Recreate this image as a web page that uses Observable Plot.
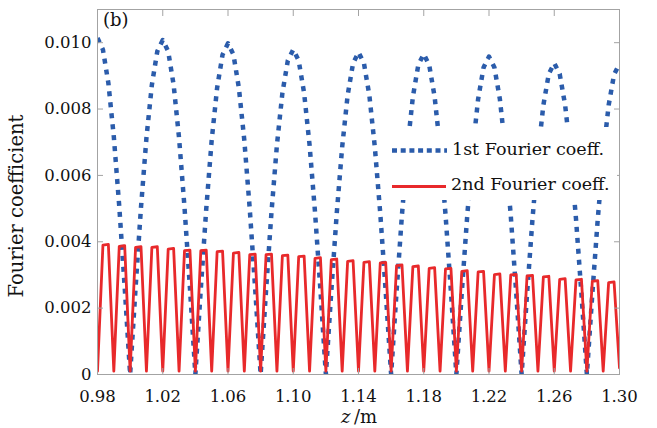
<!DOCTYPE html>
<html>
<head>
<meta charset="utf-8">
<script src="https://cdn.jsdelivr.net/npm/d3@7"></script>
<script src="https://cdn.jsdelivr.net/npm/@observablehq/plot@0.6"></script>
<style>
  html, body { margin: 0; padding: 0; background: #ffffff; }
  #wrap { position: relative; width: 657px; height: 428px; font-family: "DejaVu Serif", serif; color: #111; }
  #wrap svg { display: block; }
  .ov { position: absolute; white-space: nowrap; line-height: 1; }
</style>
</head>
<body>
<div id="wrap"></div>
<script>
// ---- data (values in units of 1e-3) ----
const zStart = 0.98;
const zStep = 1 / 300;

const firstCoeff = [
  10.14, 9.79, 8.78, 7.17, 5.07, 2.63, 0,
  2.61, 5.04, 7.13, 8.73, 9.74, 10.08, 9.74, 8.73, 7.13, 5.04, 2.61, 0,
  2.58, 4.99, 7.06, 8.64, 9.64, 9.98, 9.64, 8.64, 7.06, 4.99, 2.58, 0,
  2.54, 4.90, 6.92, 8.48, 9.46, 9.79, 9.46, 8.48, 6.92, 4.90, 2.54, 0,
  2.51, 4.86, 6.86, 8.41, 9.38, 9.71, 9.38, 8.41, 6.86, 4.86, 2.51, 0,
  2.50, 4.83, 6.83, 8.37, 9.33, 9.66, 9.33, 8.37, 6.83, 4.83, 2.50, 0,
  2.48, 4.79, 6.77, 8.30, 9.25, 9.58, 9.25, 8.30, 6.77, 4.79, 2.48, 0,
  2.43, 4.69, 6.63, 8.12, 9.06, 9.38, 9.06, 8.12, 6.63, 4.69, 2.43, 0,
  2.42, 4.68, 6.62, 8.11, 9.04, 9.36
];

const secondCoeff = [
  0.1, 3.90, 3.92, 0.1, 3.86, 3.88, 0.1, 3.83, 3.85, 0.1, 3.83, 3.85, 0.1,
  3.78, 3.80, 0.1, 3.73, 3.75, 0.1, 3.73, 3.75, 0.1, 3.70, 3.72, 0.1,
  3.66, 3.68, 0.1, 3.61, 3.63, 0.1, 3.61, 3.63, 0.1, 3.58, 3.60, 0.1,
  3.55, 3.57, 0.1, 3.50, 3.52, 0.1, 3.46, 3.48, 0.1, 3.41, 3.43, 0.1,
  3.38, 3.40, 0.1, 3.36, 3.38, 0.1, 3.28, 3.30, 0.1, 3.25, 3.27, 0.1,
  3.20, 3.22, 0.1, 3.18, 3.20, 0.1, 3.11, 3.13, 0.1, 3.09, 3.11, 0.1,
  3.01, 3.03, 0.1, 3.00, 3.02, 0.1, 2.97, 2.99, 0.1, 2.94, 2.96, 0.1,
  2.87, 2.89, 0.1, 2.85, 2.87, 0.1, 2.81, 2.83, 0.1, 2.77, 2.79, 0.2
];

const xTicks = [0.98, 1.02, 1.06, 1.10, 1.14, 1.18, 1.22, 1.26, 1.30];
const yTicks = [0, 0.002, 0.004, 0.006, 0.008, 0.010];
const seriesNames = ["1st Fourier coeff.", "2nd Fourier coeff."];

// ---- build tables ----
const toRows = (arr) => arr.map((v, i) => ({ z: zStart + i * zStep, v: v / 1000 }));
const blueRows = toRows(firstCoeff);
const redRows = toRows(secondCoeff);

const BLUE = "#2b5cab";
const RED = "#e8292b";
const GREY = "#a3a3a3";

const yFmt = d => d === 0 ? "0" : d3.format(".3f")(d);

const chart = Plot.plot({
  width: 657,
  height: 428,
  marginLeft: 97,
  marginRight: 38,
  marginTop: 9,
  marginBottom: 54,
  style: { fontFamily: "DejaVu Serif", fontSize: "16.5px", color: "#111", background: "#ffffff", overflow: "visible" },
  x: { domain: [0.98, 1.30] },
  y: { domain: [0, 0.011] },
  marks: [
    Plot.line(blueRows, { x: "z", y: "v", stroke: BLUE, strokeWidth: 4.5, strokeDasharray: "5,6", strokeLinecap: "butt", clip: true }),
    Plot.line(redRows, { x: "z", y: "v", stroke: RED, strokeWidth: 2.8, clip: true }),
    Plot.frame({ stroke: GREY, strokeWidth: 1 }),
    Plot.axisX({ ticks: xTicks, tickFormat: d3.format(".2f"), tickSize: -6, tickPadding: 22, stroke: GREY, fill: "#111", label: null }),
    Plot.axisX({ anchor: "top", ticks: xTicks, tickFormat: () => "", tickSize: -6, stroke: GREY, label: null }),
    Plot.axisY({ ticks: yTicks, tickFormat: yFmt, tickSize: -6, tickPadding: 12, stroke: GREY, fill: "#111", label: null }),
    Plot.axisY({ anchor: "right", ticks: yTicks, tickFormat: () => "", tickSize: -6, stroke: GREY, label: null })
  ]
});

const wrap = document.getElementById("wrap");
wrap.appendChild(chart);

// panel tag
const tag = document.createElement("div");
tag.className = "ov";
tag.style.cssText = "left:103px;top:11px;font-size:18px;";
tag.textContent = "(b)";
wrap.appendChild(tag);

// y label
const yl = document.createElement("div");
yl.className = "ov";
yl.style.cssText = "left:17px;top:206px;font-size:19.5px;transform:translate(-50%,-50%) rotate(-90deg);";
yl.textContent = "Fourier coefficient";
wrap.appendChild(yl);

// x label
const xl = document.createElement("div");
xl.className = "ov";
xl.style.cssText = "left:359px;top:417px;font-size:18px;transform:translate(-50%,-50%);";
xl.innerHTML = "<i>z</i>&#8201;/m";
wrap.appendChild(xl);

// legend
const leg = document.createElement("div");
leg.className = "ov";
leg.style.cssText = "left:384px;top:127px;width:233px;height:73px;background:#ffffff;";
leg.innerHTML =
  `<svg width="233" height="73" style="position:absolute;left:0;top:0;overflow:visible">
     <line x1="8" x2="63" y1="23.5" y2="23.5" stroke="${BLUE}" stroke-width="4.5" stroke-dasharray="5,3.7"/>
     <line x1="8" x2="62" y1="59.5" y2="59.5" stroke="${RED}" stroke-width="2.8"/>
   </svg>
   <div class="ov" style="left:68px;top:14px;font-size:17.5px;">${seriesNames[0]}</div>
   <div class="ov" style="left:67px;top:49px;font-size:17.5px;">${seriesNames[1]}</div>`;
wrap.appendChild(leg);
</script>
</body>
</html>
